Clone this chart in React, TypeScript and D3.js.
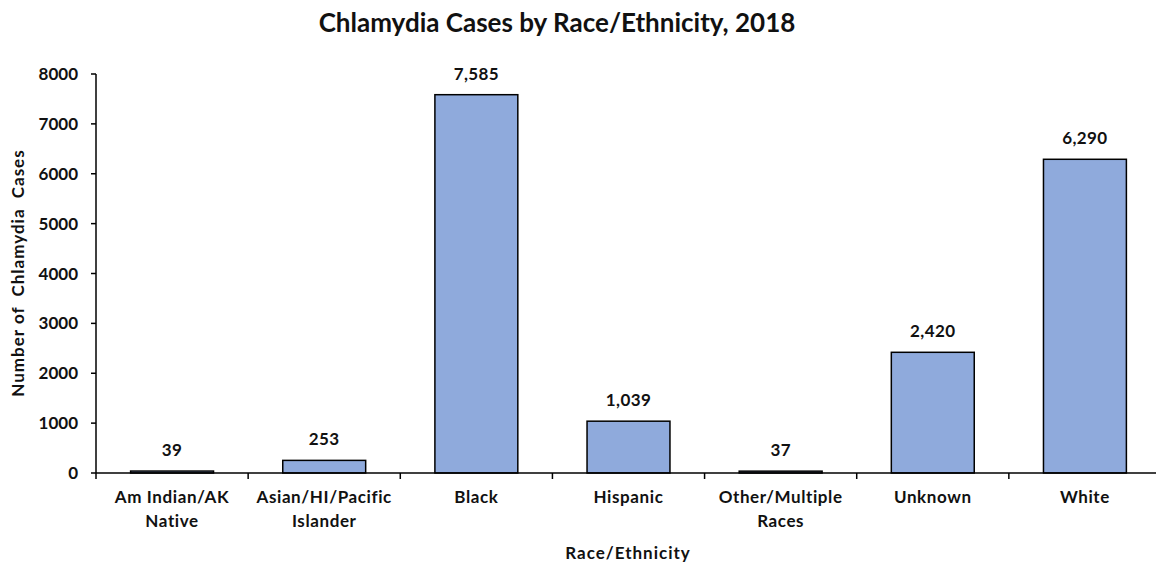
import React from "react";
import * as d3 from "d3";

const categories: string[][] = [
  ["Am Indian/AK", "Native"],
  ["Asian/HI/Pacific", "Islander"],
  ["Black"],
  ["Hispanic"],
  ["Other/Multiple", "Races"],
  ["Unknown"],
  ["White"],
];
const cases: number[] = [39, 253, 7585, 1039, 37, 2420, 6290];
const yTicks: number[] = [0, 1000, 2000, 3000, 4000, 5000, 6000, 7000, 8000];

const W = 1156;
const H = 567;
const FONT = "Lato, 'Open Sans', sans-serif";

export default function App() {
  const keys = categories.map((c) => c.join(" "));
  const x = d3.scaleBand<string>().domain(keys).range([96, 1161]).paddingInner(0.455).paddingOuter(0.2275);
  const xTicks = d3.scaleBand<string>().domain(keys).range([96, 1161]);
  const y = d3.scaleLinear().domain([0, 8000]).range([473, 74]);
  const fmt = d3.format(",");

  return (
    <svg width={W} height={H} style={{ position: "absolute", left: 0, top: 0, background: "#fff" }} fontFamily={FONT} fontWeight="bold" fill="#111">
      <text x={557} y={32} textAnchor="middle" fontSize={26}>
        Chlamydia Cases by Race/Ethnicity, 2018
      </text>

      {/* bars */}
      {cases.map((v, i) => (
        <rect
          key={keys[i]}
          x={x(keys[i])}
          y={y(v)}
          width={x.bandwidth()}
          height={y(0) - y(v)}
          fill="#8FAADC"
          stroke="#000"
          strokeWidth={1.5}
        />
      ))}

      {/* value labels */}
      {cases.map((v, i) => (
        <text key={"l" + i} x={x(keys[i])! + x.bandwidth() / 2} y={y(v) - 15} textAnchor="middle" fontSize={17} letterSpacing={0.4}>
          {fmt(v)}
        </text>
      ))}

      {/* y axis */}
      <line x1={96} x2={96} y1={y(8000)} y2={y(0)} stroke="#000" strokeWidth={1.5} />
      {yTicks.map((t) => (
        <g key={t}>
          <line x1={91} x2={96} y1={y(t)} y2={y(t)} stroke="#000" strokeWidth={1.5} />
          <text x={78} y={y(t)} dy="0.36em" textAnchor="end" fontSize={17}>
            {t}
          </text>
        </g>
      ))}

      {/* x axis */}
      <line x1={96} x2={W} y1={y(0)} y2={y(0)} stroke="#000" strokeWidth={1.5} />
      {keys.map((k) => (
        <line key={"t" + k} x1={xTicks(k)} x2={xTicks(k)} y1={y(0)} y2={y(0) + 6} stroke="#000" strokeWidth={1.5} />
      ))}
      {categories.map((lines, i) => (
        <text key={"c" + i} x={x(keys[i])! + x.bandwidth() / 2} y={503} textAnchor="middle" fontSize={17} letterSpacing={0.6}>
          {lines.map((ln, j) => (
            <tspan key={j} x={x(keys[i])! + x.bandwidth() / 2} dy={j === 0 ? 0 : 24}>
              {ln}
            </tspan>
          ))}
        </text>
      ))}

      <text x={628} y={559} textAnchor="middle" fontSize={17} letterSpacing={1}>
        Race/Ethnicity
      </text>
      <text
        transform={`translate(24, 273) rotate(-90)`}
        textAnchor="middle"
        fontSize={17}
        letterSpacing={1}
        style={{ whiteSpace: "pre" }}
      >
        {"Number of  Chlamydia  Cases"}
      </text>
    </svg>
  );
}
